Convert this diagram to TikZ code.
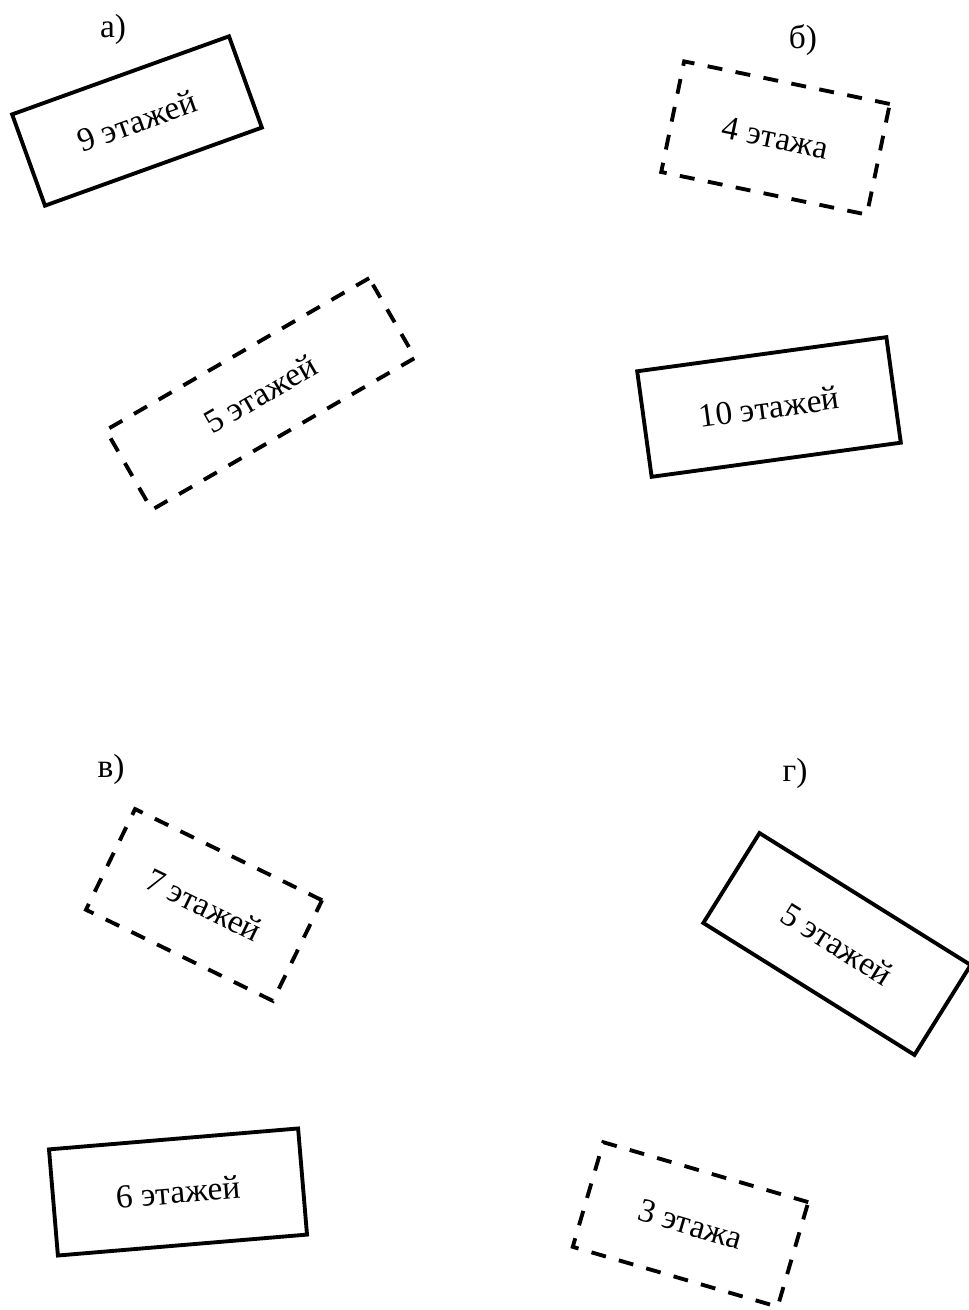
\documentclass[tikz,border=0pt]{standalone}
\usepackage{fontspec}
\setmainfont{Liberation Serif}
\newfontfamily\bldfont{Liberation Serif}
\usepackage{tikz}

\begin{document}
\begin{tikzpicture}[
      built/.style={draw, line width=2.2pt, inner sep=0pt, font=\bldfont\fontsize{19}{23}\selectfont},
      planned/.style={built, dash pattern=on 0.3cm off 0.27cm},
      tag/.style={font=\bldfont\fontsize{19}{23}\selectfont}]

      \useasboundingbox (0,0) rectangle (19.38,26.2) ;

      \node [tag] (la) at (2.26, 25.62) {а)} ;
      \node [tag] (lb) at (16.06, 25.40) {б)} ;
      \node [tag] (lv) at (2.22, 10.82) {в)} ;
      \node [tag] (lg) at (15.9, 10.74) {г)} ;

      \node [built, rotate=19.8, minimum width=4.61cm, minimum height=1.94cm] (b9) at (2.74, 23.78) {9 этажей} ;
      \node [planned, rotate=30, minimum width=6.08cm, minimum height=1.84cm] (b5) at (5.21, 18.32) {5 этажей} ;

      \node [planned, rotate=-11.7, minimum width=4.2cm, minimum height=2.26cm] (b4) at (15.51, 23.44) {4 этажа} ;
      \node [built, rotate=7.8, minimum width=5.03cm, minimum height=2.13cm] (b10) at (15.38, 18.06) {10 этажей} ;

      \node [planned, rotate=-26, minimum width=4.16cm, minimum height=2.24cm] (b7) at (4.08, 8.10) {7 этажей} ;
      \node [built, rotate=4.8, minimum width=5.0cm, minimum height=2.13cm] (b6) at (3.56, 2.36) {6 этажей} ;

      \node [built, rotate=-32, minimum width=4.98cm, minimum height=2.12cm] (b5g) at (16.74, 7.32) {5 этажей} ;
      \node [planned, rotate=-16.3, minimum width=4.27cm, minimum height=2.18cm] (b3) at (13.81, 1.71) {3 этажа} ;
    \end{tikzpicture}
\end{document}
